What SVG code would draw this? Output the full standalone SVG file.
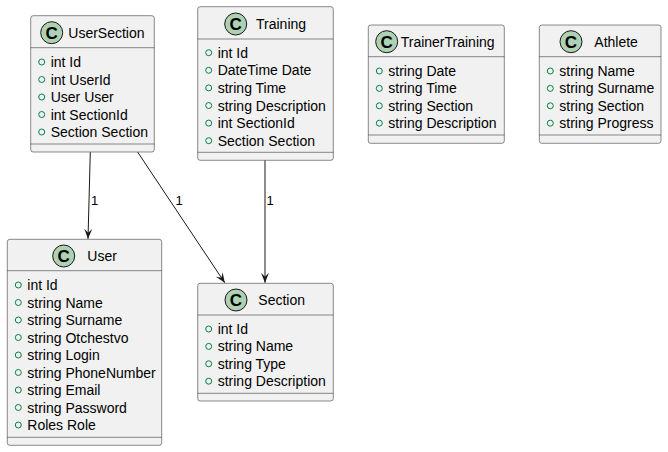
<svg xmlns="http://www.w3.org/2000/svg" width="668" height="452" viewBox="0 0 668 452">
<style>
.box{fill:#F1F1F1;stroke:#181818;stroke-width:0.5}
.sep{stroke:#181818;stroke-width:0.5}
.ci{fill:#ADD1B2;stroke:#181818;stroke-width:1}
.cl{font-family:"Liberation Sans",Arial,sans-serif;font-size:17px;font-weight:bold;fill:#000000;text-anchor:middle}
.t{font-family:"Liberation Sans",Arial,sans-serif;font-size:14px;fill:#000000}
.v{fill:none;stroke:#038048;stroke-width:1}
.ln{fill:none;stroke:#181818;stroke-width:1}
.lb{font-family:"Liberation Sans",Arial,sans-serif;font-size:13px;fill:#000000}
</style>
<defs>
<marker id="ah" viewBox="0 0 10 10" refX="10" refY="5" markerWidth="10" markerHeight="10" markerUnits="userSpaceOnUse" orient="auto">
<path d="M10,5 L0,1 L4,5 L0,9 Z" fill="#181818"/>
</marker>
</defs>
<rect width="668" height="452" fill="#FFFFFF"/>

<g id="UserSection">
<rect class="box" x="30.7" y="15.7" width="123.6" height="136.3" rx="2.5"/>
<circle class="ci" cx="51.7" cy="32.7" r="11"/>
<text class="cl" x="51.7" y="38.7">C</text>
<text class="t" x="68.3" y="37.8">UserSection</text>
<line class="sep" x1="30.7" y1="47.7" x2="154.3" y2="47.7"/>
<circle class="v" cx="41.7" cy="62" r="3"/><text class="t" x="50.7" y="67">int Id</text>
<circle class="v" cx="41.7" cy="79.5" r="3"/><text class="t" x="50.7" y="84.5">int UserId</text>
<circle class="v" cx="41.7" cy="97" r="3"/><text class="t" x="50.7" y="102">User User</text>
<circle class="v" cx="41.7" cy="114.5" r="3"/><text class="t" x="50.7" y="119.5">int SectionId</text>
<circle class="v" cx="41.7" cy="132" r="3"/><text class="t" x="50.7" y="137">Section Section</text>
<line class="sep" x1="30.7" y1="144" x2="154.3" y2="144"/>
</g>

<g id="Training">
<rect class="box" x="197.7" y="6.7" width="135.6" height="153.6" rx="2.5"/>
<circle class="ci" cx="235.7" cy="24" r="11"/>
<text class="cl" x="235.7" y="30">C</text>
<text class="t" x="256" y="29">Training</text>
<line class="sep" x1="197.7" y1="39" x2="333.3" y2="39"/>
<circle class="v" cx="208.7" cy="52.7" r="3"/><text class="t" x="217.7" y="57.7">int Id</text>
<circle class="v" cx="208.7" cy="70.3" r="3"/><text class="t" x="217.7" y="75.3">DateTime Date</text>
<circle class="v" cx="208.7" cy="87.9" r="3"/><text class="t" x="217.7" y="92.9">string Time</text>
<circle class="v" cx="208.7" cy="105.5" r="3"/><text class="t" x="217.7" y="110.5">string Description</text>
<circle class="v" cx="208.7" cy="123.1" r="3"/><text class="t" x="217.7" y="128.1">int SectionId</text>
<circle class="v" cx="208.7" cy="140.7" r="3"/><text class="t" x="217.7" y="145.7">Section Section</text>
<line class="sep" x1="197.7" y1="152.3" x2="333.3" y2="152.3"/>
</g>

<g id="TrainerTraining">
<rect class="box" x="368.3" y="25" width="136" height="118.3" rx="2.5"/>
<circle class="ci" cx="386.7" cy="41.7" r="11"/>
<text class="cl" x="386.7" y="47.7">C</text>
<text class="t" x="400.7" y="46.7">TrainerTraining</text>
<line class="sep" x1="368.3" y1="56.7" x2="504.3" y2="56.7"/>
<circle class="v" cx="379.3" cy="71" r="3"/><text class="t" x="388.3" y="76">string Date</text>
<circle class="v" cx="379.3" cy="88.4" r="3"/><text class="t" x="388.3" y="93.4">string Time</text>
<circle class="v" cx="379.3" cy="105.8" r="3"/><text class="t" x="388.3" y="110.8">string Section</text>
<circle class="v" cx="379.3" cy="123.2" r="3"/><text class="t" x="388.3" y="128.2">string Description</text>
<line class="sep" x1="368.3" y1="135" x2="504.3" y2="135"/>
</g>

<g id="Athlete">
<rect class="box" x="539.3" y="25" width="121.7" height="118.3" rx="2.5"/>
<circle class="ci" cx="571" cy="41.7" r="11"/>
<text class="cl" x="571" y="47.7">C</text>
<text class="t" x="594.3" y="46.7">Athlete</text>
<line class="sep" x1="539.3" y1="56.7" x2="661" y2="56.7"/>
<circle class="v" cx="550.3" cy="71" r="3"/><text class="t" x="559.3" y="76">string Name</text>
<circle class="v" cx="550.3" cy="88.4" r="3"/><text class="t" x="559.3" y="93.4">string Surname</text>
<circle class="v" cx="550.3" cy="105.8" r="3"/><text class="t" x="559.3" y="110.8">string Section</text>
<circle class="v" cx="550.3" cy="123.2" r="3"/><text class="t" x="559.3" y="128.2">string Progress</text>
<line class="sep" x1="539.3" y1="135" x2="661" y2="135"/>
</g>

<g id="User">
<rect class="box" x="7.3" y="239.3" width="154.4" height="206" rx="2.5"/>
<circle class="ci" cx="63.7" cy="256" r="11"/>
<text class="cl" x="63.7" y="262">C</text>
<text class="t" x="87.3" y="261">User</text>
<line class="sep" x1="7.3" y1="270.7" x2="161.7" y2="270.7"/>
<circle class="v" cx="18.3" cy="285" r="3"/><text class="t" x="27.3" y="290">int Id</text>
<circle class="v" cx="18.3" cy="302.5" r="3"/><text class="t" x="27.3" y="307.5">string Name</text>
<circle class="v" cx="18.3" cy="320" r="3"/><text class="t" x="27.3" y="325">string Surname</text>
<circle class="v" cx="18.3" cy="337.5" r="3"/><text class="t" x="27.3" y="342.5">string Otchestvo</text>
<circle class="v" cx="18.3" cy="355" r="3"/><text class="t" x="27.3" y="360">string Login</text>
<circle class="v" cx="18.3" cy="372.5" r="3"/><text class="t" x="27.3" y="377.5">string PhoneNumber</text>
<circle class="v" cx="18.3" cy="390" r="3"/><text class="t" x="27.3" y="395">string Email</text>
<circle class="v" cx="18.3" cy="407.5" r="3"/><text class="t" x="27.3" y="412.5">string Password</text>
<circle class="v" cx="18.3" cy="425" r="3"/><text class="t" x="27.3" y="430">Roles Role</text>
<line class="sep" x1="7.3" y1="437.3" x2="161.7" y2="437.3"/>
</g>

<g id="Section">
<rect class="box" x="197.7" y="283.3" width="135.6" height="117.7" rx="2.5"/>
<circle class="ci" cx="236" cy="300" r="11"/>
<text class="cl" x="236" y="306">C</text>
<text class="t" x="258.3" y="305">Section</text>
<line class="sep" x1="197.7" y1="315" x2="333.3" y2="315"/>
<circle class="v" cx="208.7" cy="329" r="3"/><text class="t" x="217.7" y="334">int Id</text>
<circle class="v" cx="208.7" cy="346.4" r="3"/><text class="t" x="217.7" y="351.4">string Name</text>
<circle class="v" cx="208.7" cy="363.8" r="3"/><text class="t" x="217.7" y="368.8">string Type</text>
<circle class="v" cx="208.7" cy="381.2" r="3"/><text class="t" x="217.7" y="386.2">string Description</text>
<line class="sep" x1="197.7" y1="393.3" x2="333.3" y2="393.3"/>
</g>

<g id="connectors">
<path class="ln" d="M90.3,152.2 L88,238.8" marker-end="url(#ah)"/>
<text class="lb" x="91" y="205">1</text>
<path class="ln" d="M137.7,152.2 L224.8,282.8" marker-end="url(#ah)"/>
<text class="lb" x="175.5" y="205">1</text>
<path class="ln" d="M265,160.5 L265,282.8" marker-end="url(#ah)"/>
<text class="lb" x="266.5" y="205">1</text>
</g>
</svg>
